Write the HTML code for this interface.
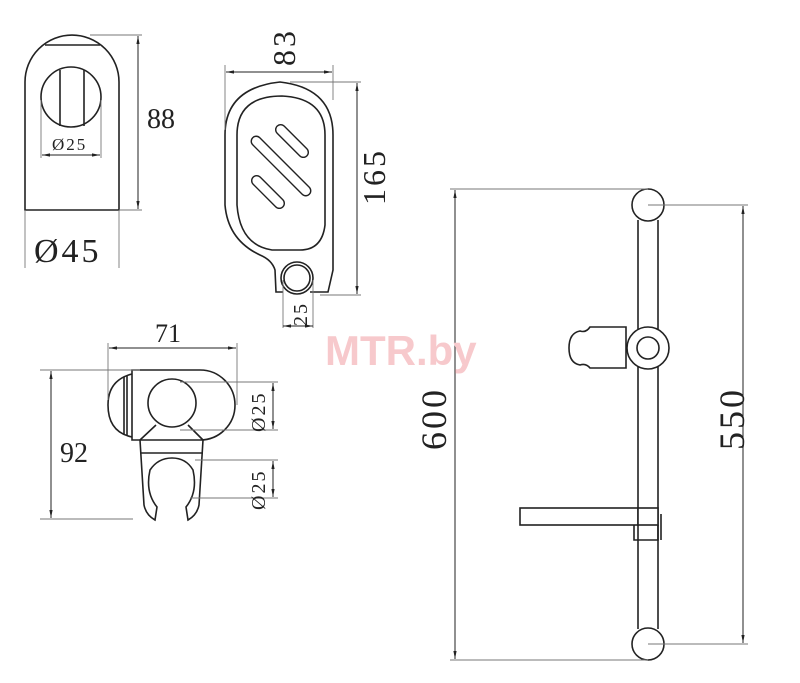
<!DOCTYPE html>
<html><head><meta charset="utf-8"><style>
html,body{margin:0;padding:0;background:#fff;}
svg{display:block;}
text{font-family:"Liberation Serif",serif;fill:#222;}
</style></head><body>
<svg width="800" height="683" viewBox="0 0 800 683" xmlns="http://www.w3.org/2000/svg">
<defs>
<marker id="a" viewBox="0 0 10 10" refX="10" refY="5" markerWidth="8" markerHeight="8" orient="auto-start-reverse"><path d="M0,3 L10,5 L0,7z" fill="#222"/></marker>
</defs>
<g fill="none" stroke="#222" stroke-width="1.6">
<!-- piece 1 -->
<path d="M25,210 L25,82 A47,47 0 0 1 119,82 L119,210 Z"/>
<line x1="45" y1="45" x2="100" y2="45"/>
<circle cx="71" cy="97" r="30"/>
<line x1="60" y1="70" x2="60" y2="126"/>
<line x1="84" y1="70" x2="84" y2="126"/>
<!-- soap dish -->
<path d="M283,292 L276,292 L275,270 Q272,260 260,255 Q228,240 225,205 L225,135 Q225,88 280,82 Q333,88 333,135 L333,270 L328,292 L310,292"/>
<path d="M237,135 Q237,96 282,96 Q325,98 325,135 L325,225 Q322,250 300,250 L272,250 Q240,245 237,205 Z"/>
<circle cx="297" cy="278" r="16"/>
<circle cx="297" cy="278" r="13"/>
<g stroke-width="1.4">
<rect x="-5" y="-21" width="10" height="42" rx="5" transform="translate(292,141) rotate(-45)"/>
<rect x="-5" y="-40" width="10" height="80" rx="5" transform="translate(281,166) rotate(-45)"/>
<rect x="-5" y="-21" width="10" height="42" rx="5" transform="translate(268,192) rotate(-45)"/>
</g>
<!-- holder bottom-left -->
<path d="M132,370 L200,370 A35,35 0 0 1 200,440 L132,440 Z"/>
<path d="M132,374 Q108,380 108,405 Q108,432 132,437"/>
<line x1="124" y1="377" x2="124" y2="434"/>
<line x1="127" y1="376" x2="127" y2="436"/>
<circle cx="172" cy="403" r="24"/>
<path d="M140,440 L156,425 M188,425 L203,440"/>
<path d="M140,440 L144,505 Q146,515 155,520 L157,507 Q145,492 150,470 Q158,458 172,458 Q186,458 193,470 Q198,492 186,507 L188,520 Q197,515 199,505 L203,440"/>
<line x1="140" y1="453" x2="203" y2="453"/>
<!-- rail -->
<circle cx="648" cy="205" r="16"/>
<circle cx="648" cy="644" r="16"/>
<line x1="638" y1="220" x2="638" y2="629"/>
<line x1="658" y1="220" x2="658" y2="629"/>
<path d="M626,327 L590,327 Q586,333 580,331 Q569,333 569,348 Q569,363 580,365 Q586,363 590,368 L626,368 Z" fill="#fff"/>
<circle cx="648" cy="348" r="21" fill="#fff"/>
<circle cx="648" cy="348" r="11"/>
<rect x="520" y="508" width="118" height="17" fill="#fff"/>
<rect x="638" y="508" width="20" height="17" fill="#fff"/>
<path d="M634,525 L634,540 L658,540 L658,525"/>
<line x1="661" y1="514" x2="661" y2="540"/>
</g>
<!-- dimension lines -->
<g fill="none" stroke="#777" stroke-width="0.9">
<line x1="90" y1="35" x2="142" y2="35"/><line x1="119" y1="210" x2="142" y2="210"/>
<line x1="25" y1="210" x2="25" y2="268"/><line x1="119" y1="210" x2="119" y2="268"/>
<line x1="41" y1="100" x2="41" y2="158"/><line x1="101" y1="100" x2="101" y2="158"/>
<line x1="225" y1="65" x2="225" y2="130"/><line x1="333" y1="65" x2="333" y2="100"/>
<line x1="290" y1="82" x2="361" y2="82"/><line x1="320" y1="295" x2="361" y2="295"/>
<line x1="283" y1="280" x2="283" y2="328"/><line x1="313" y1="280" x2="313" y2="328"/>
<line x1="108" y1="343" x2="108" y2="400"/><line x1="237" y1="343" x2="237" y2="405"/>
<line x1="40" y1="370" x2="140" y2="370"/><line x1="40" y1="519" x2="133" y2="519"/>
<line x1="180" y1="382" x2="278" y2="382"/><line x1="180" y1="430" x2="278" y2="430"/>
<line x1="195" y1="460" x2="278" y2="460"/><line x1="190" y1="498" x2="278" y2="498"/>
<line x1="450" y1="189" x2="648" y2="189"/><line x1="450" y1="660" x2="648" y2="660"/>
<line x1="648" y1="205" x2="748" y2="205"/><line x1="648" y1="644" x2="748" y2="644"/>
</g>
<g fill="none" stroke="#222" stroke-width="1" marker-start="url(#a)" marker-end="url(#a)">
<line x1="138" y1="36" x2="138" y2="209"/>
<line x1="42" y1="155" x2="100" y2="155"/>
<line x1="226" y1="72" x2="332" y2="72"/>
<line x1="357" y1="83" x2="357" y2="294"/>
<line x1="109" y1="348" x2="236" y2="348"/>
<line x1="51" y1="371" x2="51" y2="518"/>
<line x1="273" y1="383" x2="273" y2="429"/>
<line x1="273" y1="461" x2="273" y2="497"/>
<line x1="455" y1="190" x2="455" y2="659"/>
<line x1="743" y1="206" x2="743" y2="643"/>
</g>
<line x1="283" y1="326" x2="313" y2="326" stroke="#222" stroke-width="1" marker-start="url(#a)" marker-end="url(#a)"/>
<!-- labels -->
<text x="147" y="128" font-size="28">88</text>
<text x="52" y="150" font-size="17" letter-spacing="2">Ø25</text>
<text x="34" y="262" font-size="34" letter-spacing="3">Ø45</text>
<text transform="translate(295,66) rotate(-90)" font-size="32" letter-spacing="3">83</text>
<text transform="translate(385,205) rotate(-90)" font-size="32" letter-spacing="3">165</text>
<text transform="translate(307,326) rotate(-90)" font-size="20" letter-spacing="2">25</text>
<text x="155" y="342" font-size="26">71</text>
<text x="60" y="462" font-size="28">92</text>
<text transform="translate(265,432) rotate(-90)" font-size="20" letter-spacing="2">Ø25</text>
<text transform="translate(265,510) rotate(-90)" font-size="20" letter-spacing="2">Ø25</text>
<text transform="translate(446,450) rotate(-90)" font-size="36" letter-spacing="3">600</text>
<text transform="translate(744,450) rotate(-90)" font-size="36" letter-spacing="3">550</text>
<text x="325" y="365" font-size="42" style="font-family:'Liberation Sans',sans-serif;fill:#f7c9cc;font-weight:bold">MTR.by</text>
</svg>
</body></html>
